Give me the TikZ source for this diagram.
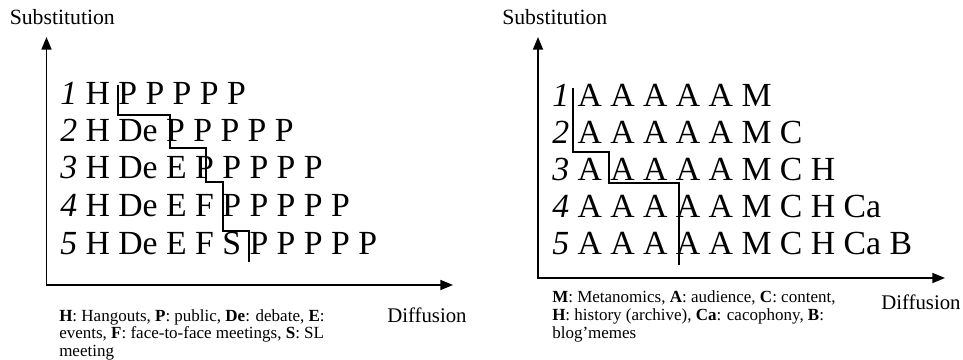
\documentclass[tikz,border=0pt]{standalone}
\usepackage{fontspec}
\setmainfont{Liberation Serif}
\usetikzlibrary{arrows.meta}
\begin{document}
\begin{tikzpicture}[x=0.75pt,y=-0.75pt,
  axis/.style={line width=1.3pt,{Triangle[length=9.5pt,width=7.5pt]}-{Triangle[length=9.5pt,width=7.5pt]}},
  stair/.style={line width=1.8pt},
  rowtext/.style={anchor=base west,inner sep=0pt,font=\fontsize{25.3pt}{30pt}\selectfont},
  axtitle/.style={anchor=base west,inner sep=0pt,font=\fontsize{16.3pt}{19pt}\selectfont},
  diftitle/.style={anchor=base west,inner sep=0pt,font=\fontsize{15.6pt}{19pt}\selectfont},
  legend/.style={anchor=base west,inner sep=0pt,font=\fontsize{12.75pt}{14pt}\selectfont}]
\useasboundingbox (0,0) rectangle (963,360);

% ---------- left panel ----------
\node[axtitle] (lsub) at (9.5,25) {Substitution};
\node[diftitle] (ldif) at (387,322) {Diffusion};
\coordinate (LY) at (46.5,37);
\coordinate (LO) at (46.5,285);
\coordinate (LX) at (453,285);
\draw[axis] (LY) -- (LO) -- (LX);

\node[rowtext] (l1) at (60,104) {\textit{1} H P P P P P};
\node[rowtext] (l2) at (60,141) {\textit{2} H De P P P P P};
\node[rowtext] (l3) at (60,178) {\textit{3} H De E P P P P P};
\node[rowtext] (l4) at (60,216) {\textit{4} H De E F P P P P P};
\node[rowtext] (l5) at (60,254) {\textit{5} H De E F S P P P P P};

\coordinate (LS0) at (117.7,85);
\coordinate (LS9) at (249,262);
\draw[stair] (LS0) -- (117.7,115) -- (170,115) -- (170,148) -- (206,148)
  -- (206,182) -- (223,182) -- (223,231) -- (249,231) -- (LS9);

\node[legend] (lg1) at (59,321) {\textbf{H}: Hangouts, \textbf{P}: public, \textbf{De}: debate, \textbf{E}:};
\node[legend] (lg2) at (59,338.5) {events, \textbf{F}: face-to-face meetings, \textbf{S}: SL};
\node[legend] (lg3) at (59,356) {meeting};

% ---------- right panel ----------
\node[axtitle] (rsub) at (502,25) {Substitution};
\node[diftitle] (rdif) at (881,309) {Diffusion};
\coordinate (RY) at (538,37);
\coordinate (RO) at (538,278);
\coordinate (RX) at (945,278);
\draw[axis] (RY) -- (RO) -- (RX);

\node[rowtext] (r1) at (552,106) {\textit{1} A A A A A M};
\node[rowtext] (r2) at (552,143) {\textit{2} A A A A A M C};
\node[rowtext] (r3) at (552,180) {\textit{3} A A A A A M C H};
\node[rowtext] (r4) at (552,217) {\textit{4} A A A A A M C H Ca};
\node[rowtext] (r5) at (552,254) {\textit{5} A A A A A M C H Ca B};

\coordinate (RS0) at (573,88);
\coordinate (RS9) at (679,265);
\draw[stair] (RS0) -- (573,152) -- (609,152) -- (609,183) -- (679,183) -- (RS9);

\node[legend] (rg1) at (552,302) {\textbf{M}: Metanomics, \textbf{A}: audience, \textbf{C}: content,};
\node[legend] (rg2) at (552,320) {\textbf{H}: history (archive), \textbf{Ca}: cacophony, \textbf{B}:};
\node[legend] (rg3) at (552,338) {blog’memes};
\end{tikzpicture}
\end{document}
